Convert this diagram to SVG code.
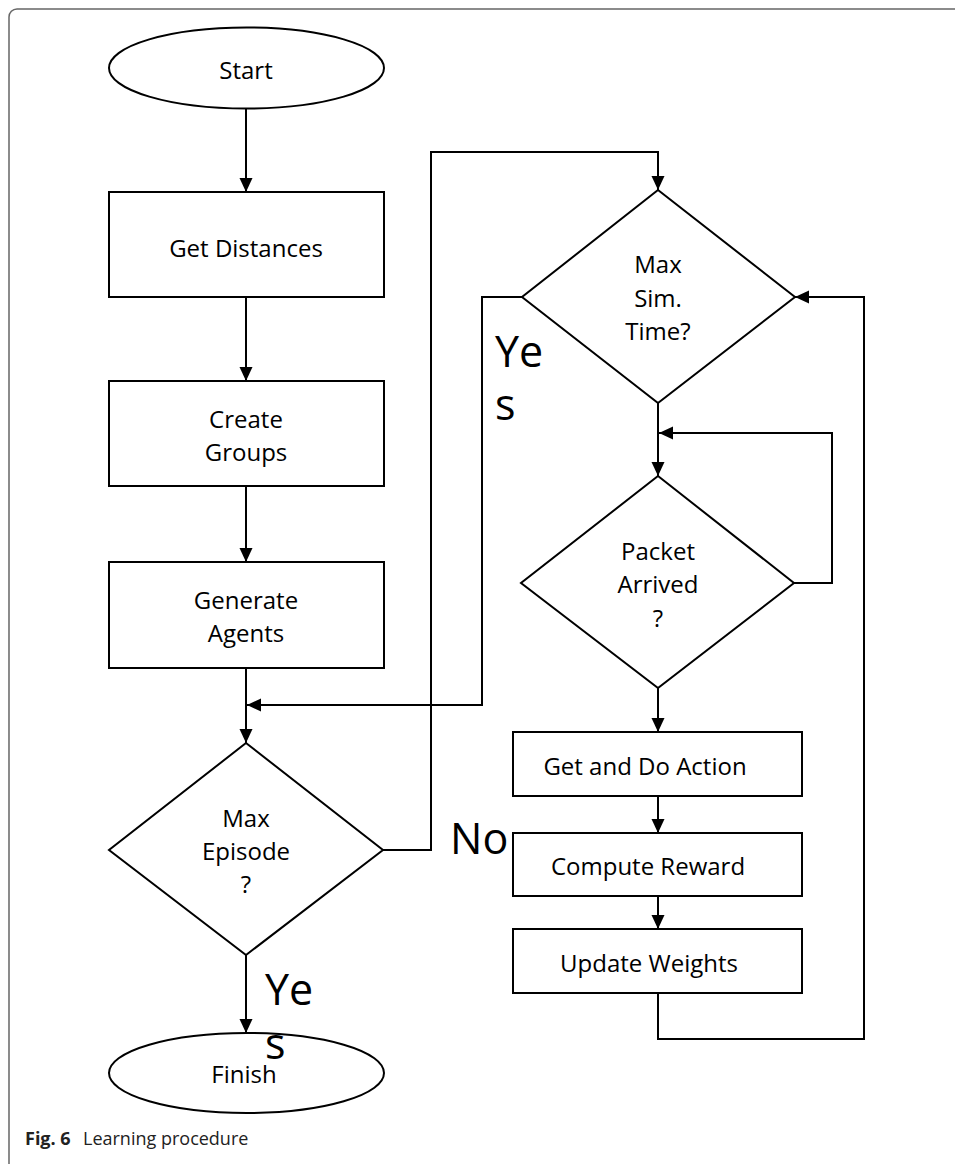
<svg xmlns="http://www.w3.org/2000/svg" width="955" height="1164" viewBox="0 0 955 1164">
<style>
.s{fill:#fff;stroke:#000;stroke-width:2}
.c{fill:none;stroke:#000;stroke-width:2}
.t{font-family:"Open Sans","Liberation Sans",sans-serif;font-size:24px;fill:#000;text-anchor:middle}
.big{font-family:"Open Sans","Liberation Sans",sans-serif;font-size:43px;fill:#000}
.cap{font-family:"Open Sans","Liberation Sans",sans-serif;font-size:18px;fill:#222}
</style>
<defs>
<marker id="a" markerUnits="userSpaceOnUse" markerWidth="14" markerHeight="14" refX="14" refY="6.5" orient="auto">
<path d="M0,0 L14,6.5 L0,13 z" fill="#000"/>
</marker>
</defs>
<rect x="9" y="9" width="970" height="1180" rx="8" fill="none" stroke="#666" stroke-width="1.5"/>
<g id="connectors">
<path class="c" d="M246,108 V192" marker-end="url(#a)"/>
<path class="c" d="M246,297 V381" marker-end="url(#a)"/>
<path class="c" d="M246,486 V562" marker-end="url(#a)"/>
<path class="c" d="M246,668 V743" marker-end="url(#a)"/>
<path class="c" d="M383,850 H431 V152 H658 V190" marker-end="url(#a)"/>
<path class="c" d="M522,297 H482 V705 H247" marker-end="url(#a)"/>
<path class="c" d="M658,403 V476" marker-end="url(#a)"/>
<path class="c" d="M794,583 H832 V433 H659" marker-end="url(#a)"/>
<path class="c" d="M658,688 V732" marker-end="url(#a)"/>
<path class="c" d="M658,796 V833" marker-end="url(#a)"/>
<path class="c" d="M658,896 V929" marker-end="url(#a)"/>
<path class="c" d="M658,993 V1039 H864 V297 H795" marker-end="url(#a)"/>
<path class="c" d="M246,955 V1033" marker-end="url(#a)"/>
</g>
<g id="start">
<ellipse class="s" cx="246.5" cy="68" rx="137.5" ry="40.5"/>
<text class="t" x="246" y="79">Start</text>
</g>
<g id="get-distances">
<rect class="s" x="109" y="192" width="275" height="105"/>
<text class="t" x="246" y="257">Get Distances</text>
</g>
<g id="create-groups">
<rect class="s" x="109" y="381" width="275" height="105"/>
<text class="t" x="246" y="428">Create</text>
<text class="t" x="246" y="461">Groups</text>
</g>
<g id="generate-agents">
<rect class="s" x="109" y="562" width="275" height="106"/>
<text class="t" x="246" y="609">Generate</text>
<text class="t" x="246" y="642">Agents</text>
</g>
<g id="max-episode">
<path class="s" d="M246,743 L383,850 L246,955 L109,850 Z"/>
<text class="t" x="246" y="827">Max</text>
<text class="t" x="246" y="860">Episode</text>
<text class="t" x="246" y="893">?</text>
</g>
<g id="max-sim-time">
<path class="s" d="M658,190 L795,297 L658,403 L522,297 Z"/>
<text class="t" x="658" y="273">Max</text>
<text class="t" x="658" y="307">Sim.</text>
<text class="t" x="658" y="340">Time?</text>
</g>
<g id="packet-arrived">
<path class="s" d="M658,476 L794,583 L658,688 L521,583 Z"/>
<text class="t" x="658" y="560">Packet</text>
<text class="t" x="658" y="593">Arrived</text>
<text class="t" x="658" y="627">?</text>
</g>
<g id="get-and-do-action">
<rect class="s" x="513" y="732" width="289" height="64"/>
<text class="t" x="645" y="775">Get and Do Action</text>
</g>
<g id="compute-reward">
<rect class="s" x="513" y="833" width="289" height="63"/>
<text class="t" x="648" y="875">Compute Reward</text>
</g>
<g id="update-weights">
<rect class="s" x="513" y="929" width="289" height="64"/>
<text class="t" x="649" y="972">Update Weights</text>
</g>
<g id="finish">
<ellipse class="s" cx="246.5" cy="1073" rx="137.5" ry="40"/>
<text class="t" x="244" y="1083">Finish</text>
</g>
<g id="labels">
<text class="big" x="495" y="367">Ye</text>
<text class="big" x="495" y="420">s</text>
<text class="big" x="450" y="854" font-size="40">No</text>
<text class="big" x="265" y="1005">Ye</text>
<text class="big" x="265" y="1059">s</text>
</g>
<text class="cap" x="25" y="1145"><tspan font-weight="bold">Fig. 6</tspan><tspan x="83">Learning procedure</tspan></text>
</svg>
